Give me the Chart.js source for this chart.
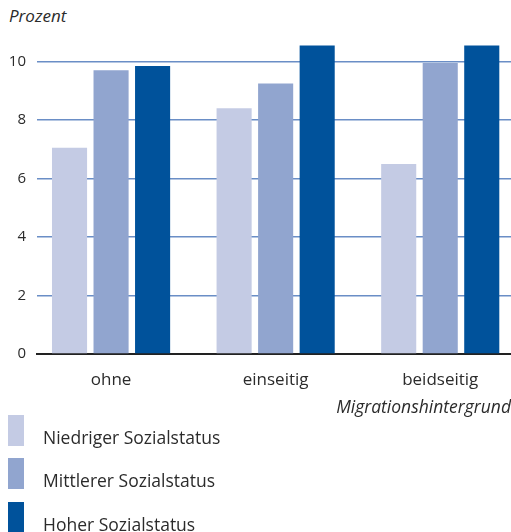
<!DOCTYPE html>
<html>
<head>
<meta charset="utf-8">
<script src="https://cdn.jsdelivr.net/npm/chart.js@4"></script>
<style>
  body { margin: 0; width: 511px; height: 532px; overflow: hidden; background: #fff;
         font-family: "Open Sans", sans-serif; color: #2b2b2b; position: relative; }
  #unit { position: absolute; left: 9px; top: 4px; font-style: italic; font-size: 17px; }
  #box { position: absolute; left: 0; top: 0; width: 511px; height: 420px; }
  .leg { position: absolute; left: 0; height: 31px; width: 300px; }
  .leg span.sw { position: absolute; left: 8px; top: 0; width: 16px; height: 31px; }
  .leg span.tx { position: absolute; left: 43px; top: 10px; font-size: 17.5px; white-space: nowrap; }
</style>
</head>
<body>
<div id="unit">Prozent</div>
<div id="box"><canvas id="barChart"></canvas></div>
<div id="legend"></div>
<script>
// Anteile nach Migrationshintergrund und Sozialstatus
const categories = ['ohne', 'einseitig', 'beidseitig'];
const seriesNames = ['Niedriger Sozialstatus', 'Mittlerer Sozialstatus', 'Hoher Sozialstatus'];
const niedrig = [7.05, 8.4, 6.5];
const mittel = [9.7, 9.25, 9.95];
const hoch = [9.85, 10.55, 10.55];
const yTicks = [0, 2, 4, 6, 8, 10];
const colors = ['#c4cbe4', '#91a5cf', '#00529b'];

const values = [niedrig, mittel, hoch];

// build the legend rows
let legend = document.getElementById('legend');
let legTops = [415, 458, 502];
seriesNames.forEach((name, i) => {
    let row = document.createElement('div');
    row.className = 'leg';
    row.style.top = legTops[i] + 'px';
    row.innerHTML = '<span class="sw" style="background:' + colors[i] + '"></span><span class="tx">' + name + '</span>';
    legend.appendChild(row);
});

let ctx = document.getElementById('barChart').getContext('2d');
let chart = new Chart(ctx, {
    type: 'bar',
    data: {
        datasets: seriesNames.map((name, i) => ({
            label: name,
            data: values[i].map((v, j) => ({ x: j, y: v })),
            backgroundColor: colors[i],
            categoryPercentage: 0.757,
            barPercentage: 0.845
        }))
    },
    options: {
        responsive: true,
        maintainAspectRatio: false,
        animation: false,
        layout: { padding: { top: 44, left: 0, right: 0, bottom: 0 } },
        plugins: { legend: { display: false }, tooltip: { enabled: false } },
        scales: {
            x: {
                type: 'linear',
                offset: false,
                min: -0.45,
                max: 2.43,
                grid: { display: false, drawTicks: false },
                border: { display: true, color: '#222', width: 2 },
                afterBuildTicks: scale => { scale.ticks = categories.map((c, i) => ({ value: i })); },
                afterFit: scale => { scale.height = 66; },
                ticks: {
                    padding: 16,
                    color: '#2b2b2b',
                    font: { family: 'Open Sans', size: 17 },
                    callback: value => categories[value]
                },
                title: {
                    display: true,
                    align: 'end',
                    text: 'Migrationshintergrund',
                    color: '#2b2b2b',
                    font: { family: 'Open Sans', size: 17.5, style: 'italic' },
                    padding: { top: 0, bottom: 1 }
                }
            },
            y: {
                min: 0,
                max: 10.6,
                afterBuildTicks: scale => { scale.ticks = yTicks.map(v => ({ value: v })); },
                afterFit: scale => { scale.width = 37; },
                grid: { color: '#6a8ec6', lineWidth: 1.5, drawTicks: false },
                border: { display: false },
                ticks: {
                    padding: 11,
                    color: '#2b2b2b',
                    font: { family: 'Open Sans', size: 15 }
                }
            }
        }
    }
});
</script>
</body>
</html>
